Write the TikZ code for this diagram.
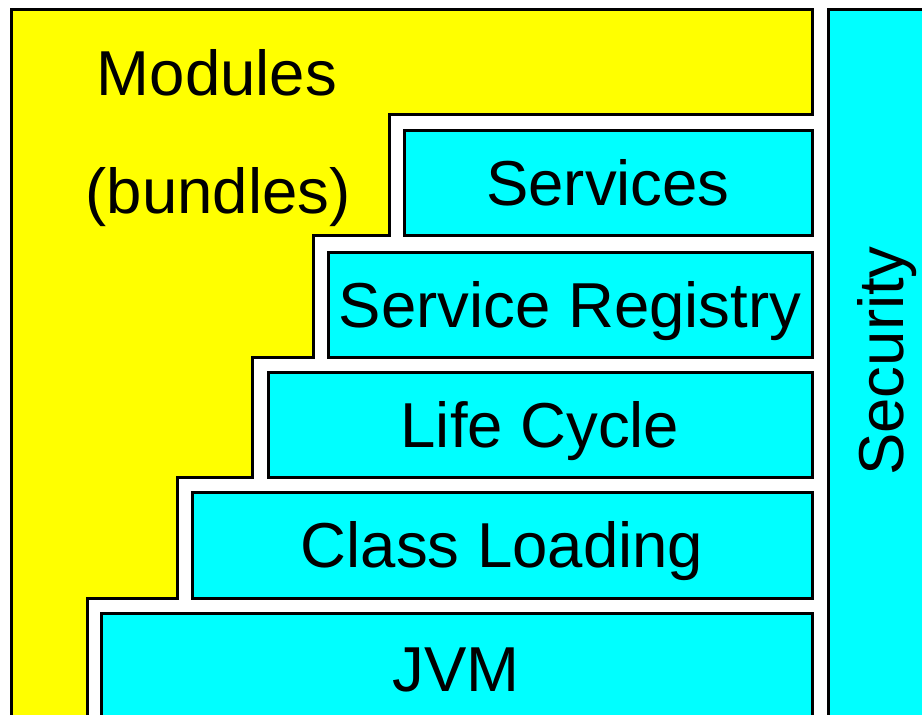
\documentclass[tikz,border=0pt]{standalone}
\usepackage{fontspec}
\setmainfont{Liberation Sans}
\definecolor{ayellow}{RGB}{255,255,0}
\definecolor{acyan}{RGB}{0,255,255}
\begin{document}
\begin{tikzpicture}[x=1pt,y=-1pt,
  yel/.style={fill=ayellow,draw=black,line width=3pt,line join=miter},
  cy/.style={fill=acyan,draw=black,line width=3pt},
  lbl/.style={anchor=base,inner sep=0pt,font=\fontsize{63.5}{70}\selectfont}]
\useasboundingbox (0,0) rectangle (922,715);
\clip (0,0) rectangle (922,715);
\fill[white] (0,0) rectangle (922,715);
% Modules (bundles)
\draw[yel] (11,9) -- (812,9) -- (812,114) -- (389,114) -- (389,235) -- (313,235) -- (313,357)
  -- (252,357) -- (252,477) -- (177,477) -- (177,598) -- (87,598) -- (87,740) -- (11,740) -- cycle;
% layers
\draw[cy] (404,130) rectangle (812,235);
\draw[cy] (328,252) rectangle (812,357);
\draw[cy] (268,372) rectangle (812,477);
\draw[cy] (192,492) rectangle (812,598);
\draw[cy] (101,613) rectangle (812,740);
\draw[cy] (828,9) rectangle (940,740);
% texts
\node[lbl] (mod) at (217,95) {Modules};
\node[lbl] (bun) at (218,213) {(bundles)};
\node[lbl] (srv) at (608,205) {Services};
\node[lbl] (reg) at (570,327) {Service Registry};
\node[lbl] (lc) at (540,447) {Life Cycle};
\node[lbl] (cl) at (502,567) {Class Loading};
\node[lbl] (jvm) at (456,691) {JVM};
\node[lbl,rotate=90] (sec) at (903,361) {Security};
\end{tikzpicture}
\end{document}
